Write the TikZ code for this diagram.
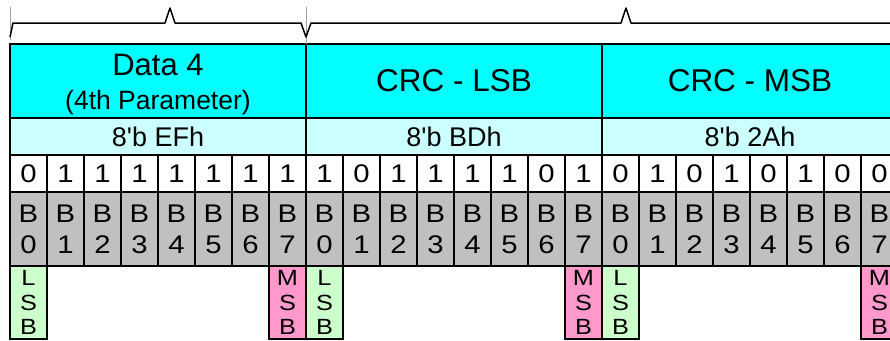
\documentclass[tikz,border=0pt]{standalone}
\usepackage{fontspec}
\setmainfont{Liberation Sans}
\newfontfamily\widesans[FakeStretch=1.15]{Liberation Sans}
\usetikzlibrary{positioning}

\definecolor{hdrcyan}{HTML}{00FFFF}
\definecolor{subcyan}{HTML}{CCFFFF}
\definecolor{bitgray}{HTML}{C0C0C0}
\definecolor{lsbgreen}{HTML}{CCFFCC}
\definecolor{msbpink}{HTML}{FF99CC}
\definecolor{tickgray}{HTML}{A0A0A0}

\begin{document}
\begin{tikzpicture}[x=1pt, y=-1pt,
  cell/.style={draw, line width=1.8pt, inner sep=0pt, outer sep=0pt, anchor=north west, align=center},
  hdrbox/.style={cell, fill=hdrcyan, minimum width=296pt, minimum height=74pt, font=\fontsize{31.5pt}{34pt}\selectfont},
  subbox/.style={cell, fill=subcyan, minimum width=296pt, minimum height=37pt, font=\fontsize{27pt}{30pt}\selectfont},
  valbox/.style={cell, fill=white, minimum width=37pt, minimum height=37pt, font=\widesans\fontsize{25.5pt}{28pt}\selectfont},
  bitbox/.style={cell, fill=bitgray, minimum width=37pt, minimum height=74pt, font=\widesans\fontsize{25.5pt}{31pt}\selectfont},
  endbox/.style={cell, minimum width=37pt, minimum height=73pt, font=\widesans\fontsize{22pt}{24.5pt}\selectfont},
  brace/.style={line width=1.5pt, line join=round}]
  \useasboundingbox (0,0) rectangle (890,340);
  \clip (0,0) rectangle (890,340);
  % byte fields
  \node[hdrbox] (data4) at (10,44) {\rule{0pt}{27.5pt}{\fontsize{31pt}{34pt}\selectfont Data 4}\\{\fontsize{26.5pt}{34pt}\selectfont (4th Parameter)\rule[-5.5pt]{0pt}{5.5pt}}};
  \node[hdrbox, right=0pt of data4] (crclsb) {CRC - LSB};
  \node[hdrbox, right=0pt of crclsb] (crcmsb) {CRC - MSB};
  \node[subbox, below=0pt of data4] (data4val) {8\textquotesingle b EFh};
  \node[subbox, below=0pt of crclsb] (crclsbval) {8\textquotesingle b BDh};
  \node[subbox, below=0pt of crcmsb] (crcmsbval) {8\textquotesingle b 2Ah};
  % bits
  \foreach \f/\bits in {0/{0,1,1,1,1,1,1,1}, 1/{1,0,1,1,1,1,0,1}, 2/{0,1,0,1,0,1,0,0}} {
    \foreach \v [count=\bitno from 0] in \bits {
      \node[valbox] (v\f\bitno) at (10+296*\f+37*\bitno, 155) {\v};
      \node[bitbox, below=0pt of v\f\bitno] (b\f\bitno) {B\\\bitno};
    }
    \node[endbox, fill=lsbgreen, below=0pt of b\f0] (lsb\f) {L\\S\\B};
    \node[endbox, fill=msbpink, below=0pt of b\f7] (msb\f) {M\\S\\B};
  }
  % braces on top
  \draw[tickgray, line width=1pt] (10,7) -- (10,40);
  \draw[tickgray, line width=1pt] (306,7) -- (306,44);
  \draw[brace] (10,37) -- (13,23) -- (165,23) -- (170,8) -- (175,23) -- (301,23) -- (306,37)
    -- (311,23) -- (621,23) -- (626,8) -- (631,23) -- (941,23) -- (946,37);
\end{tikzpicture}
\end{document}
